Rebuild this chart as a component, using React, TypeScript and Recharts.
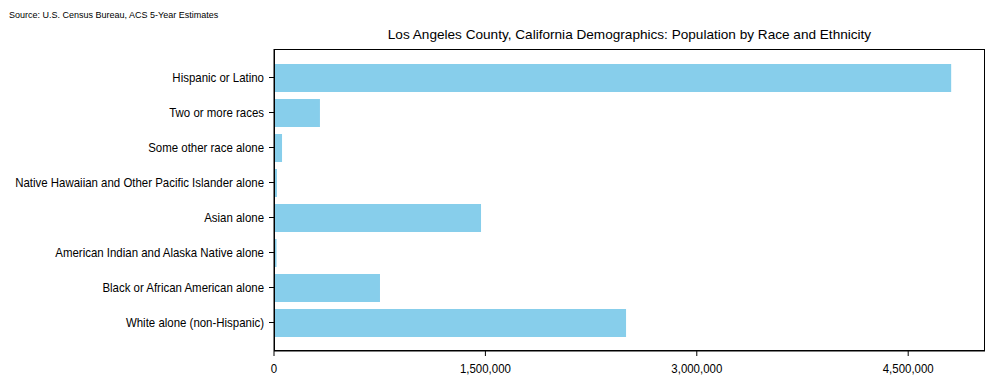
import React from "react";
import { BarChart, Bar, XAxis, YAxis } from "recharts";

const categories = [
  "Hispanic or Latino",
  "Two or more races",
  "Some other race alone",
  "Native Hawaiian and Other Pacific Islander alone",
  "Asian alone",
  "American Indian and Alaska Native alone",
  "Black or African American alone",
  "White alone (non-Hispanic)",
];
const population = [4805000, 326000, 57000, 21000, 1469000, 18000, 752000, 2498000];
const xTicks = [0, 1500000, 3000000, 4500000];

const data = categories.map((name, i) => ({ name, value: population[i] }));

const FONT = "'Liberation Sans', Arial, sans-serif";
const W = 993;
const H = 385;
const PLOT_LEFT = 274;
const PLOT_TOP = 49;
const PLOT_RIGHT = 985;
const PLOT_BOTTOM = 351;
const SQUEEZE = 0.955; // reference glyphs are a touch narrower

function fmtNum(v: number) {
  return Intl.NumberFormat("en-US").format(v);
}

// plain text tick so the long label is not wrapped
function CategoryTick(props: any) {
  const { x, y, payload } = props;
  return (
    <g transform={`translate(${x - 3},${y}) scale(${SQUEEZE},1)`}>
      <text x={0} y={0} dy={4} textAnchor="end" fontSize={12} fontFamily={FONT} fill="#000">
        {payload.value}
      </text>
    </g>
  );
}

function ValueTick(props: any) {
  const { x, y, payload } = props;
  return (
    <g transform={`translate(${x},${y}) scale(${SQUEEZE},1)`}>
      <text x={0} y={0} dy={15} textAnchor="middle" fontSize={12} fontFamily={FONT} fill="#000">
        {fmtNum(payload.value)}
      </text>
    </g>
  );
}

export default function App() {
  return (
    <div style={{ position: "absolute", left: 0, top: 0, width: W, height: H, background: "#fff", fontFamily: FONT }}>
      <div style={{ position: "absolute", left: 9, top: 10, fontSize: 9, color: "#000" }}>
        Source: U.S. Census Bureau, ACS 5-Year Estimates
      </div>
      <div
        style={{
          position: "absolute",
          left: PLOT_LEFT,
          width: PLOT_RIGHT - PLOT_LEFT,
          top: 27,
          textAlign: "center",
          fontSize: 13.6,
          color: "#000",
        }}
      >
        Los Angeles County, California Demographics: Population by Race and Ethnicity
      </div>
      <BarChart
        width={W}
        height={H}
        data={data}
        layout="vertical"
        margin={{ top: PLOT_TOP, right: W - PLOT_RIGHT, left: 0, bottom: 0 }}
      >
        <XAxis
          type="number"
          domain={[0, 5045000]}
          ticks={xTicks}
          tick={<ValueTick />}
          height={H - PLOT_BOTTOM}
          stroke="#000"
          tickSize={5}
          interval={0}
        />
        <YAxis
          type="category"
          dataKey="name"
          width={PLOT_LEFT}
          padding={{ top: 11, bottom: 11 }}
          stroke="#000"
          tick={<CategoryTick />}
          tickSize={5}
          interval={0}
        />
        <Bar dataKey="value" fill="#87CEEB" barSize={28} isAnimationActive={false} />
      </BarChart>
      <div
        style={{
          position: "absolute",
          left: PLOT_LEFT,
          top: PLOT_TOP,
          width: PLOT_RIGHT - PLOT_LEFT,
          height: PLOT_BOTTOM - PLOT_TOP,
          border: "1px solid #000",
          boxSizing: "border-box",
          pointerEvents: "none",
        }}
      />
    </div>
  );
}
